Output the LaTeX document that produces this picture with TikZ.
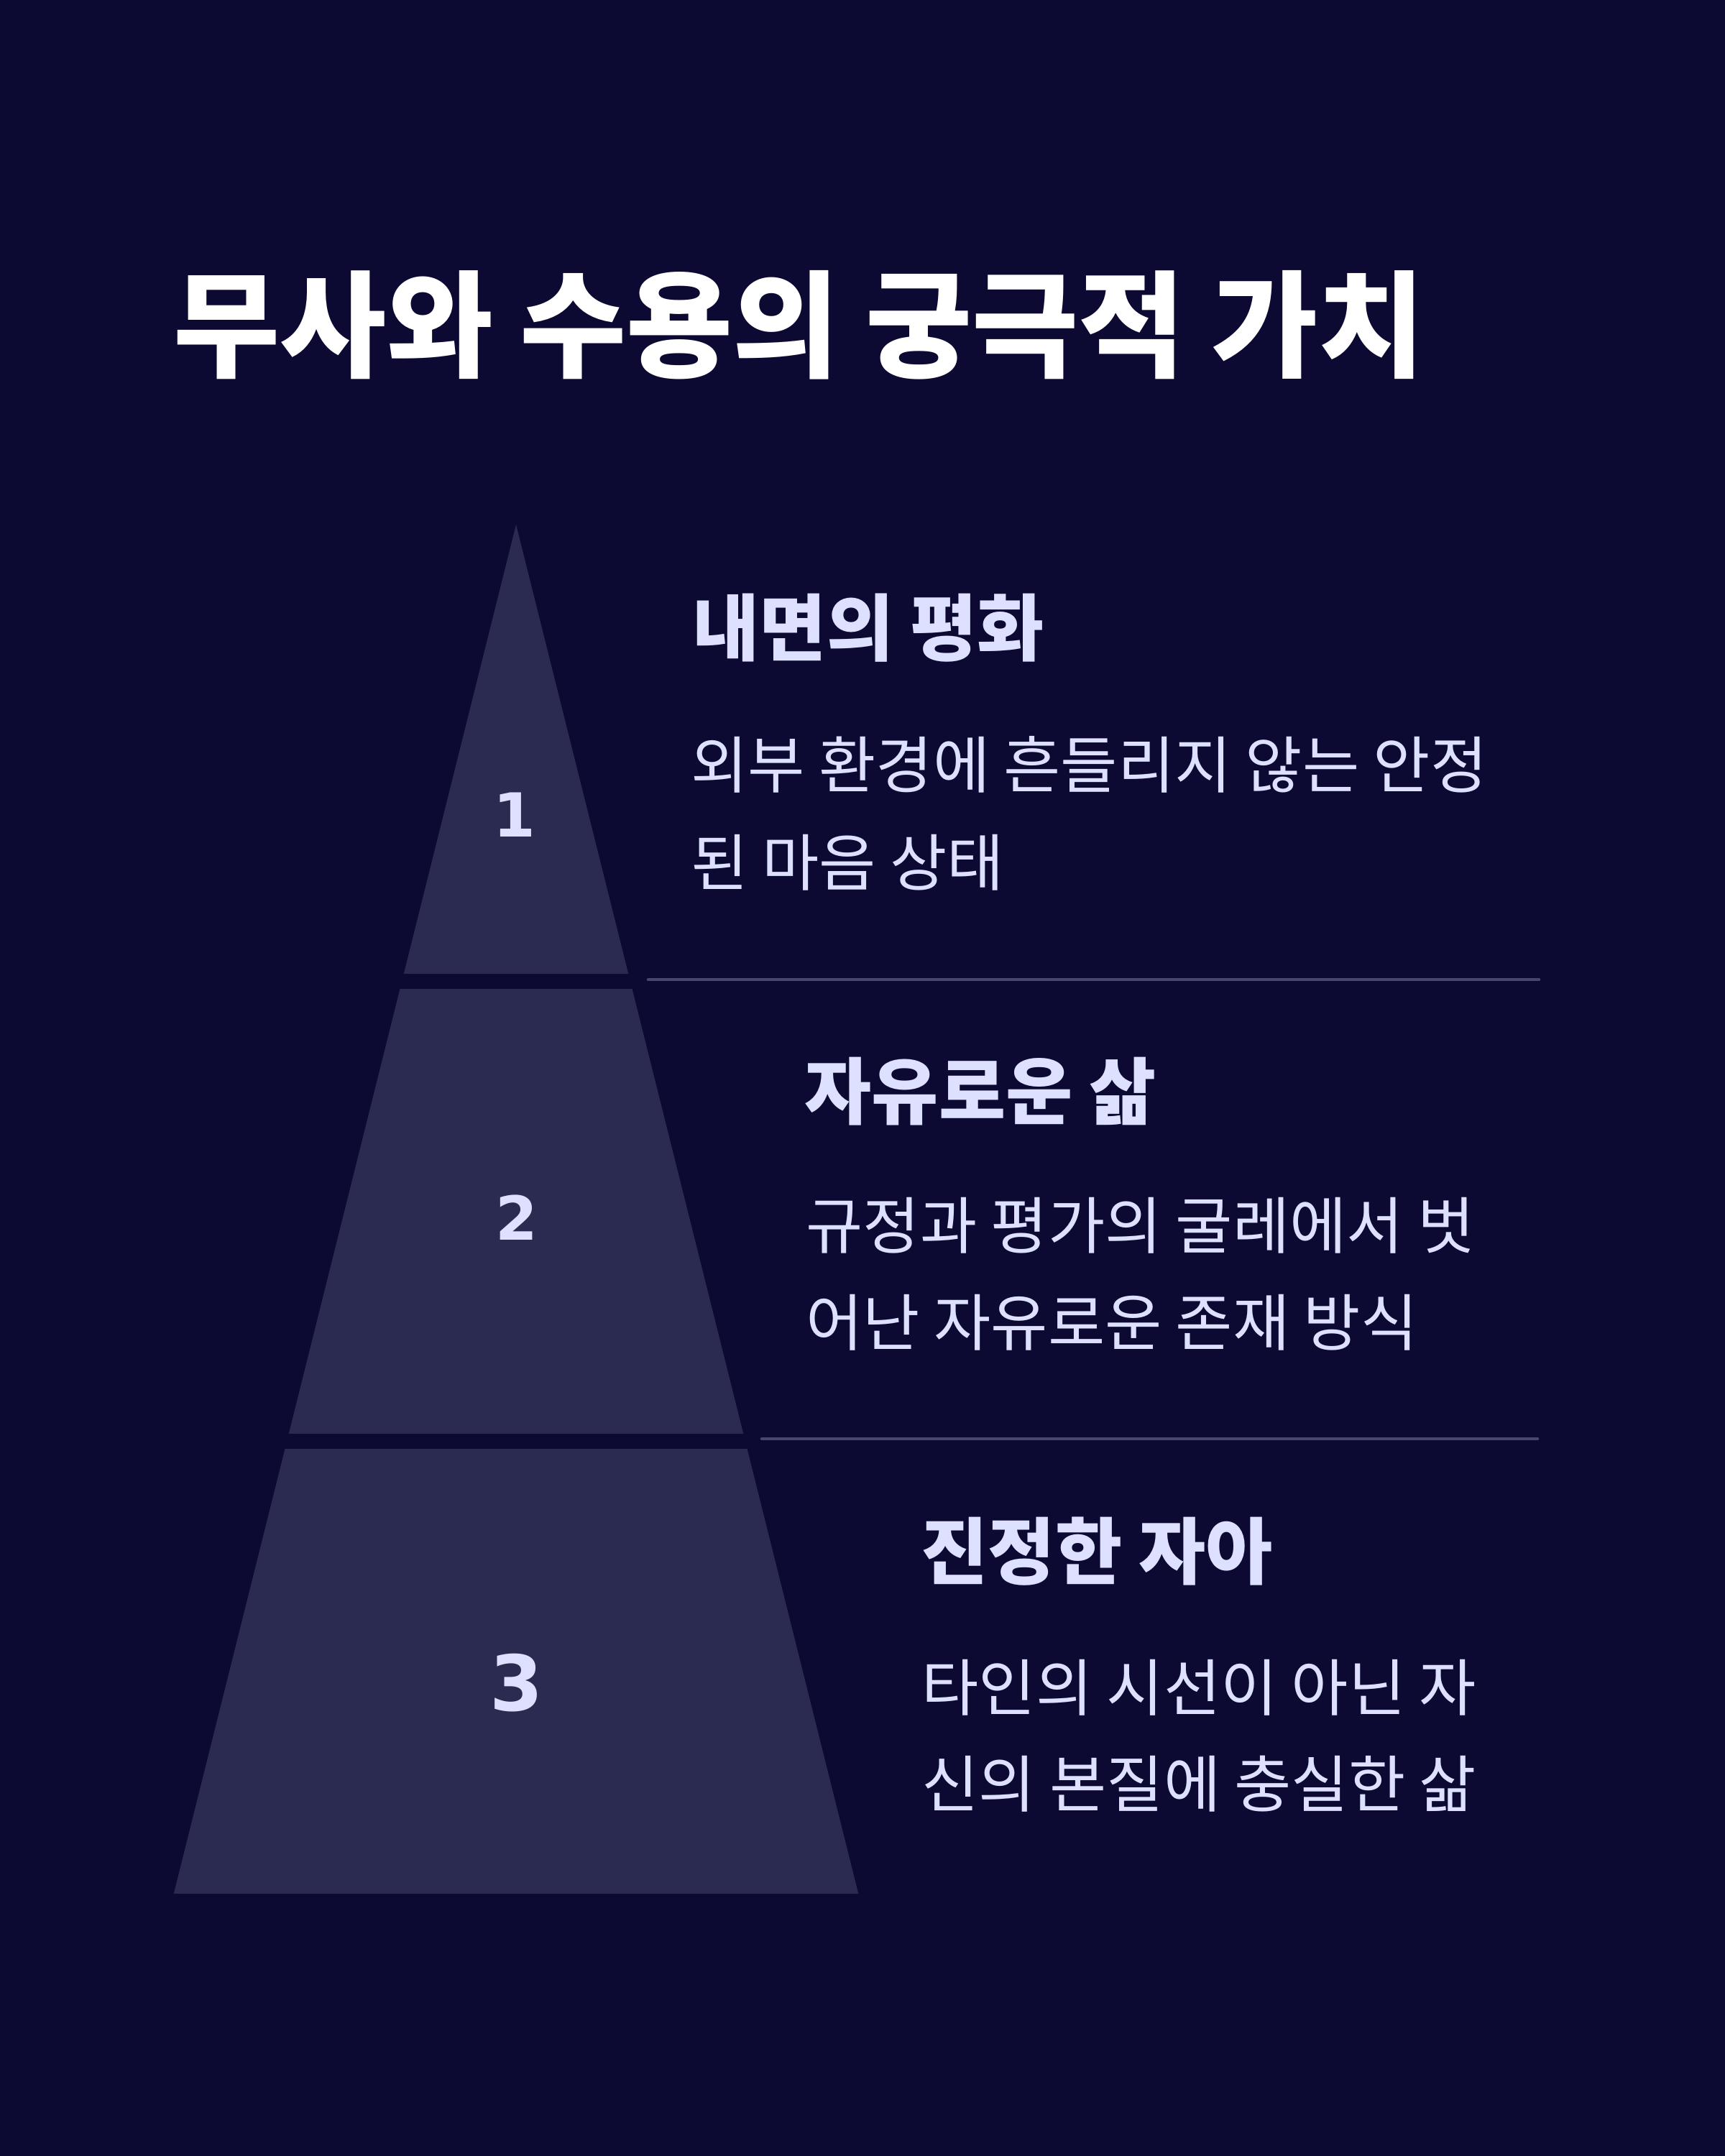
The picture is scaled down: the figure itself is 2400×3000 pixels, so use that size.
\documentclass[tikz,border=0pt]{standalone}
\usepackage{fontspec}
\usepackage{tikz}
\usepackage{xcolor}

\newfontfamily\krfont{Noto Sans CJK KR}
\newfontfamily\numfont{DejaVu Sans}

\definecolor{bgnavy}{HTML}{0C0A33}
\definecolor{levelfill}{HTML}{2B2A50}
\definecolor{lavender}{HTML}{DDE1FF}
\definecolor{rulecol}{HTML}{47466E}

\tikzset{
  level/.style={fill=levelfill},
  divider/.style={draw=rulecol, line width=1.3pt, line cap=round},
  title/.style={anchor=west, inner sep=0pt, text=white, font=\krfont\bfseries\fontsize{45.8pt}{50pt}\selectfont},
  heading/.style={anchor=west, inner sep=0pt, text=lavender, font=\krfont\bfseries\fontsize{28.8pt}{32pt}\selectfont},
  body/.style={anchor=west, inner sep=0pt, text=lavender, font=\krfont\fontsize{24.5pt}{28pt}\selectfont},
  num/.style={inner sep=0pt, text=lavender, font=\numfont\bfseries\fontsize{24pt}{26pt}\selectfont}
}

\begin{document}
\begin{tikzpicture}[x=0.01cm, y=-0.01cm]
        % Background
        \fill[bgnavy] (0,0) rectangle (2400,3000);
        \useasboundingbox (0,0) rectangle (2400,3000);

        % Title
        \node[title] (title) at (241,452) {무사와 수용의 궁극적 가치};

        % Pyramid levels
        \fill[level] (718,730) -- (874.25,1355) -- (561.75,1355) -- cycle;
        \fill[level] (556.5,1376) -- (879.5,1376) -- (1034.25,1995) -- (401.75,1995) -- cycle;
        \fill[level] (396.5,2016) -- (1039.5,2016) -- (1194.25,2635) -- (241.75,2635) -- cycle;

        % Numbers
        \node[num] (n1) at (716,1134) {1};
        \node[num] (n2) at (719,1694) {2};
        \node[num, font=\numfont\bfseries\fontsize{30.4pt}{32pt}\selectfont] (n3) at (719,2342) {3};

        % Dividers
        \coordinate (d1a) at (902,1363);
        \coordinate (d1b) at (2141,1363);
        \coordinate (d2a) at (1060,2002);
        \coordinate (d2b) at (2139,2002);
        \draw[divider] (d1a) -- (d1b);
        \draw[divider] (d2a) -- (d2b);

        % Level 1
        \node[heading] (h1) at (963,874) {내면의 평화};
        \node[body] (b1a) at (961,1064) {외부 환경에 흔들리지 않는 안정};
        \node[body] (b1b) at (961,1200) {된 마음 상태};

        % Level 2
        \node[heading] (h2) at (1119,1519) {자유로운 삶};
        \node[body] (b2a) at (1121,1705) {규정과 평가의 굴레에서 벗};
        \node[body] (b2b) at (1121,1840) {어난 자유로운 존재 방식};

        % Level 3
        \node[heading] (h3) at (1281,2159) {진정한 자아};
        \node[body] (b3a) at (1282,2348) {타인의 시선이 아닌 자};
        \node[body] (b3b) at (1282,2482) {신의 본질에 충실한 삶};
    \end{tikzpicture}
\end{document}
